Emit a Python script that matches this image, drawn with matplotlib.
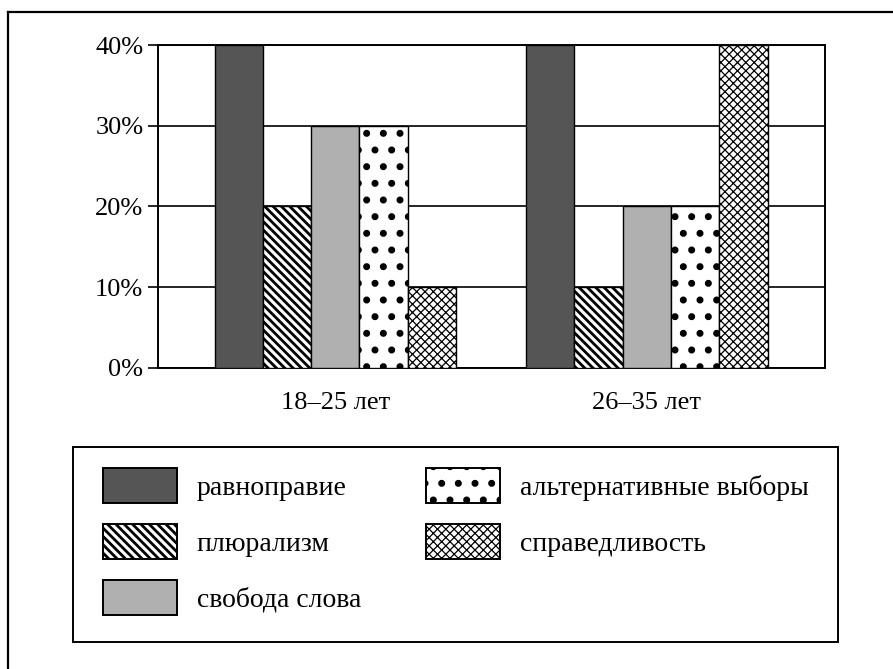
import matplotlib
matplotlib.use("Agg")
import matplotlib.pyplot as plt
from matplotlib.lines import Line2D
from matplotlib.patches import Rectangle
import numpy as np

# data
groups = ["18–25 лет", "26–35 лет"]
series = ["равноправие", "плюрализм", "свобода слова",
          "альтернативные выборы", "справедливость"]
values = {
    "равноправие": [40, 40],
    "плюрализм": [20, 10],
    "свобода слова": [30, 20],
    "альтернативные выборы": [30, 20],
    "справедливость": [10, 40],
}
yticks = [0, 10, 20, 30, 40]
ytick_labels = ["0%", "10%", "20%", "30%", "40%"]

# bar styles: facecolor, hatch, hatch linewidth
styles = {
    "равноправие": ("#555555", None, 1.0),
    "плюрализм": ("white", "\\\\\\\\", 2.0),
    "свобода слова": ("#b0b0b0", None, 1.0),
    "альтернативные выборы": ("white", ".", 2.6),
    "справедливость": ("white", "xxxx", 0.9),
}


def set_hatch_lw(patch, lw):
    if hasattr(patch, "set_hatch_linewidth"):
        patch.set_hatch_linewidth(lw)
    else:
        patch._hatch_linewidth = lw


plt.rcParams["font.family"] = ["Liberation Serif", "DejaVu Serif"]
plt.rcParams["font.size"] = 19
plt.rcParams["hatch.color"] = "black"

fig = plt.figure(figsize=(8.93, 6.69), dpi=100)
W, H = 893, 669
ax = fig.add_axes([158 / W, 1 - 368 / H, (825 - 158) / W, (368 - 45) / H])

x = np.arange(len(groups))
width = 0.155
handles = []
for i, name in enumerate(series):
    fc, hatch, hlw = styles[name]
    offs = (i - 2) * width
    bars = ax.bar(x + offs, values[name], width, color=fc, hatch=hatch,
                  edgecolor="black", linewidth=1.0, zorder=3, label=name)
    for b in bars:
        set_hatch_lw(b, hlw)
    handles.append(bars)

ax.set_xlim(-0.569, 1.572)
ax.set_ylim(0, 40)
ax.set_yticks(yticks)
ax.set_yticklabels(ytick_labels)
ax.set_xticks(x)
ax.set_xticklabels(groups)
ax.tick_params(axis="y", length=7, width=1.2, pad=3.5, color="black")
ax.tick_params(axis="x", length=0, pad=17)
ax.yaxis.grid(True, color="black", linewidth=1.2, zorder=0)
ax.set_axisbelow(True)
for s in ax.spines.values():
    s.set_linewidth(1.4)
    s.set_color("black")

# legend: entries without frame, box drawn separately
leg = fig.legend(handles=handles, labels=series, ncol=2, loc="upper left",
                 bbox_to_anchor=(103 / W, 1 - 468 / H), fontsize=20,
                 frameon=False, handlelength=2.66, handleheight=1.56,
                 handletextpad=0.72, labelspacing=0.755, columnspacing=2.34,
                 borderpad=0, borderaxespad=0)
for h, name in zip(leg.legend_handles, series):
    set_hatch_lw(h, styles[name][2])
    h.set_linewidth(1.4)

fig.add_artist(Rectangle((73 / W, 1 - 642 / H), (838 - 73) / W, (642 - 447) / H,
                         transform=fig.transFigure, fill=False,
                         edgecolor="black", linewidth=1.4))

# outer border (top and left edges visible)
fig.add_artist(Line2D([8 / W, 1], [1 - 12 / H, 1 - 12 / H], color="black", linewidth=1.6))
fig.add_artist(Line2D([8 / W, 8 / W], [0, 1 - 12 / H], color="black", linewidth=1.6))

fig.savefig("out.png", dpi=100)
